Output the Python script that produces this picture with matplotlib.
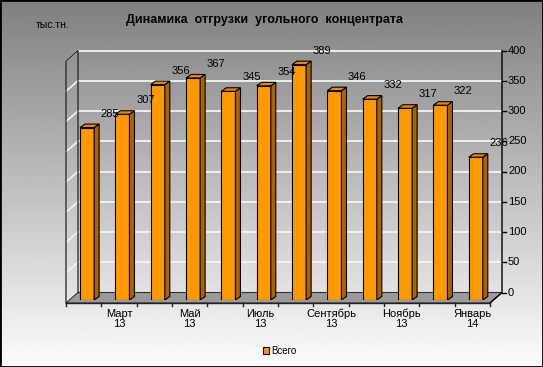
import numpy as np
import matplotlib
matplotlib.use("Agg")
import matplotlib.pyplot as plt
from matplotlib.patches import Polygon, Rectangle

plt.rcParams['font.family'] = ['Liberation Sans', 'DejaVu Sans']

months = ['Февраль\n13', 'Март\n13', 'Апрель\n13', 'Май\n13', 'Июнь\n13', 'Июль\n13',
          'Август\n13', 'Сентябрь\n13', 'Октябрь\n13', 'Ноябрь\n13', 'Декабрь\n13', 'Январь\n14']
values = [285, 307, 356, 367, 345, 354, 389, 346, 332, 317, 322, 236]
yticks = [0, 50, 100, 150, 200, 250, 300, 350, 400]

W, H = 543, 367
fig = plt.figure(figsize=(W / 100, H / 100), dpi=100)

# background gradient
bg = fig.add_axes([0, 0, 1, 1])
grad = np.linspace(0.50, 0.99, 256).reshape(-1, 1)
bg.imshow(grad, aspect='auto', cmap='gray', vmin=0, vmax=1, extent=[0, 1, 0, 1])
bg.set_axis_off()
fig.patches.append(Rectangle((0, 0), 1, 1, transform=fig.transFigure, fill=False,
                             edgecolor='black', lw=2))

# bar plane axes (pixel layout)
left, right, bottom, top = 69.4, 493.4, 300, 58
ax = fig.add_axes([left / W, 1 - bottom / H, (right - left) / W, (bottom - top) / H])
ax.set_xlim(0, 12)
ax.set_ylim(0, 400)
ax.set_axis_off()
ax.patch.set_alpha(0)

pxx = (right - left) / 12      # px per x unit
pxy = (bottom - top) / 400     # px per y unit
def ox(px): return px / pxx
def oy(px): return px / pxy

BX, BY = ox(8.6), oy(7.5)      # back wall offset
FX, FY = ox(-3.4), oy(-3.0)    # front edge offset
SDX, SDY = ox(5), oy(3.5)      # bar depth
bw = 0.4

# floor
ax.add_patch(Polygon([(FX, FY), (12 + FX, FY), (12 + BX, BY), (BX, BY)], closed=True,
                     facecolor='#9a9a9a', edgecolor='#333333', lw=0.8, clip_on=False, zorder=1))
# gridlines on back wall and left wall
for v in yticks[1:]:
    ax.plot([BX, 12 + BX], [v + BY, v + BY], color='#f4f4f4', lw=1.3, clip_on=False, zorder=1)
    ax.plot([FX, BX], [v + FY, v + BY], color='#f4f4f4', lw=1.2, clip_on=False, zorder=1)
# left wall outline
ax.plot([FX, FX, BX, BX], [FY, 400 + FY, 400 + BY, BY], color='#222222', lw=0.9,
        clip_on=False, zorder=1)
# right axis
ax.plot([12 + FX, 12 + BX, 12 + BX], [FY, BY, 400 + BY], color='black', lw=1,
        clip_on=False, zorder=1)
for v in yticks:
    ax.plot([12 + BX, 12 + BX + ox(4)], [v + BY, v + BY], color='black', lw=1, clip_on=False)
    ax.text(12 + BX + ox(6), v + BY, str(v), ha='left', va='center', fontsize=8)
# front edge ticks and labels
ax.plot([FX, 12 + FX], [FY, FY], color='#222222', lw=1, clip_on=False, zorder=2)
for i in range(13):
    ax.plot([FX + i, FX + i], [FY, FY - oy(3)], color='#222222', lw=1, clip_on=False)
for i in range(1, 12, 2):
    ax.text(FX + i + 0.5, FY - oy(6), months[i], ha='center', va='top', fontsize=8,
            linespacing=1.0)

# bars
x = np.arange(12) + 0.5
ax.bar(x, values, width=bw, color='#ff9900', edgecolor='black', lw=0.8, zorder=3,
       label='Всего')
for xi, v in zip(x, values):
    r = xi + bw / 2
    l = xi - bw / 2
    ax.add_patch(Polygon([(r, 0), (r + SDX, SDY), (r + SDX, v + SDY), (r, v)], closed=True,
                         facecolor='#a86400', edgecolor='black', lw=0.8, zorder=3))
    ax.add_patch(Polygon([(l, v), (r, v), (r + SDX, v + SDY), (l + SDX, v + SDY)], closed=True,
                         facecolor='#e08a00', edgecolor='black', lw=0.8, zorder=3))
    ax.annotate(str(v), xy=(xi, v + SDY), xytext=(16.5, 7.5), textcoords='offset points',
                ha='center', va='center', fontsize=8, zorder=5)

fig.text(0.487, 1 - 20 / H, 'Динамика  отгрузки  угольного  концентрата', ha='center',
         va='center', fontsize=9, fontweight='bold')
fig.text(36 / W, 1 - 25 / H, 'тыс.тн.', ha='left', va='center', fontsize=7.5)

fig.legend(loc='center', bbox_to_anchor=(280 / W, 1 - 351 / H), frameon=False, fontsize=7,
           handlelength=0.6, handleheight=0.6, handletextpad=0.2)

fig.savefig('out.png', dpi=100)
